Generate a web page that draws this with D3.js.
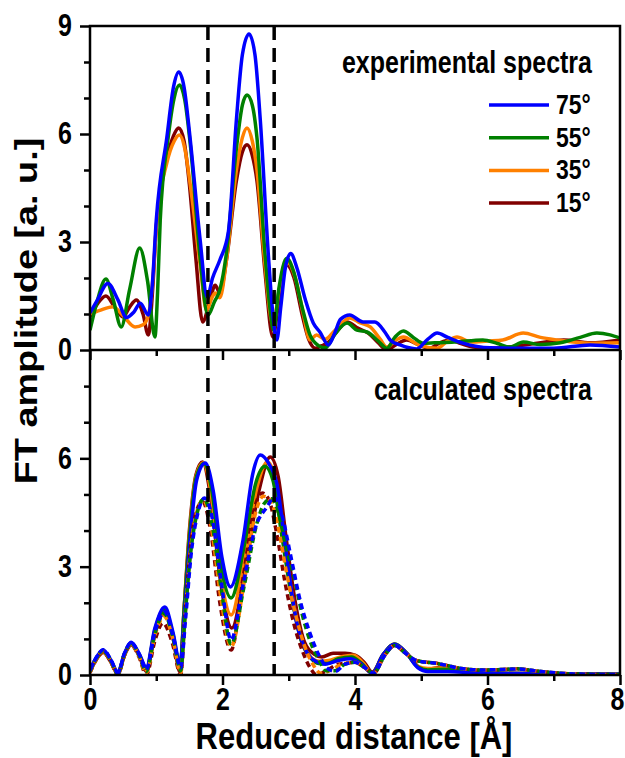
<!DOCTYPE html>
<html>
<head>
<meta charset="utf-8">
<script src="https://cdn.jsdelivr.net/npm/d3@7"></script>
<style>
  body { margin: 0; background: #fff; }
  svg { font-family: "Liberation Sans", Arial, sans-serif; font-weight: bold; }
</style>
</head>
<body>
<div id="graph"></div>
<script>
// experimental spectra, [distance, amplitude]
var exp75 = [[0,1.03],[0.1,1.35],[0.27,1.85],[0.42,1.4],[0.55,0.9],[0.66,1.05],[0.76,1.3],[0.88,0.97],[0.94,1.8],[1.0,3.6],[1.16,5.9],[1.26,7.3],[1.34,7.72],[1.42,7.3],[1.51,5.9],[1.66,3.1],[1.77,1.47],[1.85,2.0],[1.96,2.5],[2.09,3.3],[2.21,6.4],[2.3,8.2],[2.4,8.78],[2.49,8.2],[2.57,6.4],[2.69,2.7],[2.76,1.0],[2.82,0.28],[2.88,1.2],[2.95,2.3],[3.03,2.68],[3.12,2.3],[3.25,1.4],[3.37,0.75],[3.47,0.5],[3.6,0.14],[3.7,0.5],[3.78,0.85],[3.92,0.97],[4.12,0.78],[4.3,0.78],[4.45,0.5],[4.53,0.28],[4.68,0.14],[4.93,0.03],[5.1,0.3],[5.24,0.47],[5.4,0.35],[5.63,0.19],[6.04,0.06],[6.5,0.05],[7.0,0.05],[7.55,0.14],[8,0.08]];
var exp55 = [[0,0.55],[0.1,1.3],[0.24,1.97],[0.35,1.4],[0.47,0.64],[0.6,1.7],[0.75,2.83],[0.87,1.9],[0.98,0.36],[1.02,1.6],[1.06,3.6],[1.18,5.9],[1.27,7.0],[1.35,7.36],[1.43,6.95],[1.52,5.6],[1.66,2.6],[1.78,0.97],[1.88,1.35],[1.96,1.67],[2.06,2.7],[2.21,5.6],[2.3,6.8],[2.37,7.08],[2.45,6.8],[2.52,5.9],[2.64,2.7],[2.72,1.1],[2.77,0.55],[2.85,1.7],[2.97,2.55],[3.07,2.2],[3.2,1.2],[3.32,0.42],[3.45,0.12],[3.55,0.06],[3.7,0.45],[3.88,0.75],[4.03,0.55],[4.18,0.5],[4.35,0.25],[4.48,0.05],[4.6,0.35],[4.73,0.53],[4.88,0.35],[5.03,0.19],[5.2,0.2],[5.5,0.22],[5.93,0.28],[6.15,0.18],[6.34,0.08],[6.54,0.22],[6.8,0.15],[7.1,0.2],[7.4,0.35],[7.65,0.47],[7.85,0.42],[8,0.33]];
var exp35 = [[0,1.0],[0.15,1.1],[0.35,1.2],[0.5,0.95],[0.68,0.64],[0.8,0.7],[0.88,0.95],[0.95,2.0],[1.0,3.4],[1.16,5.2],[1.27,5.8],[1.35,5.97],[1.43,5.6],[1.52,4.5],[1.66,2.4],[1.76,1.1],[1.84,1.45],[1.89,1.58],[1.96,1.45],[2.06,2.5],[2.21,5.0],[2.3,5.9],[2.37,6.17],[2.45,5.8],[2.52,5.0],[2.64,2.4],[2.76,0.7],[2.86,1.7],[2.99,2.42],[3.1,2.0],[3.22,1.0],[3.32,0.28],[3.42,0.42],[3.55,0.3],[3.7,0.55],[3.92,0.89],[4.08,0.75],[4.23,0.64],[4.38,0.3],[4.48,0.08],[4.6,0.25],[4.73,0.36],[4.95,0.15],[5.24,0.05],[5.4,0.25],[5.54,0.36],[5.75,0.22],[6.0,0.25],[6.23,0.28],[6.54,0.47],[6.8,0.35],[7.05,0.28],[7.55,0.19],[8,0.2]];
var exp15 = [[0,0.92],[0.12,1.3],[0.24,1.5],[0.37,1.2],[0.5,0.92],[0.6,1.2],[0.7,1.39],[0.8,1.0],[0.88,0.42],[0.95,1.8],[1.0,3.4],[1.16,5.3],[1.26,5.95],[1.34,6.17],[1.42,5.8],[1.5,4.6],[1.6,2.5],[1.7,0.78],[1.8,1.3],[1.89,1.8],[1.96,1.58],[2.06,2.5],[2.21,4.7],[2.3,5.5],[2.37,5.7],[2.45,5.4],[2.52,4.7],[2.64,2.2],[2.76,0.36],[2.86,1.5],[2.97,2.36],[3.08,2.0],[3.2,1.0],[3.3,0.3],[3.4,0.05],[3.5,0.12],[3.6,0.22],[3.72,0.5],[3.88,0.78],[4.05,0.6],[4.2,0.47],[4.35,0.2],[4.48,0.0],[4.62,0.15],[4.78,0.28],[4.95,0.15],[5.13,0.05],[5.28,0.2],[5.43,0.28],[5.6,0.18],[5.78,0.08],[6.0,0.05],[6.3,0.08],[6.75,0.19],[7.15,0.28],[7.55,0.2],[8,0.28]];

// calculated spectra, solid lines
var calc75 = [[0,0.14],[0.1,0.5],[0.2,0.69],[0.32,0.4],[0.42,0.08],[0.52,0.6],[0.62,0.91],[0.74,0.6],[0.85,0.22],[0.98,1.3],[1.13,1.88],[1.25,1.2],[1.36,0.33],[1.43,1.8],[1.51,3.74],[1.61,5.4],[1.74,5.87],[1.86,5.1],[1.99,3.27],[2.12,2.44],[2.31,3.74],[2.46,5.6],[2.57,6.09],[2.7,5.85],[2.82,5.3],[2.97,3.27],[3.12,1.44],[3.28,0.6],[3.43,0.36],[3.55,0.3],[3.75,0.4],[3.92,0.45],[4.1,0.3],[4.26,0.05],[4.42,0.55],[4.6,0.85],[4.78,0.6],[4.95,0.2],[5.1,0.1],[5.4,0.1],[5.8,0.06],[6.5,0.04],[8,0.02]];
var calc55 = [[0,0.12],[0.1,0.48],[0.2,0.66],[0.32,0.38],[0.42,0.06],[0.52,0.58],[0.62,0.88],[0.74,0.58],[0.85,0.18],[0.98,1.25],[1.12,1.82],[1.25,1.15],[1.36,0.25],[1.42,1.8],[1.5,3.8],[1.6,5.45],[1.72,5.86],[1.84,5.1],[1.98,3.0],[2.13,2.13],[2.33,3.6],[2.5,5.3],[2.64,5.78],[2.76,5.4],[2.9,3.8],[3.03,2.3],[3.18,1.0],[3.32,0.5],[3.45,0.32],[3.58,0.32],[3.75,0.45],[3.95,0.5],[4.1,0.32],[4.26,0.05],[4.42,0.55],[4.6,0.86],[4.78,0.6],[4.95,0.22],[5.1,0.14],[5.35,0.16],[5.8,0.07],[6.5,0.04],[8,0.02]];
var calc35 = [[0,0.1],[0.1,0.46],[0.2,0.64],[0.32,0.36],[0.42,0.04],[0.52,0.56],[0.62,0.86],[0.74,0.56],[0.85,0.14],[0.98,1.2],[1.12,1.78],[1.25,1.1],[1.36,0.15],[1.42,1.8],[1.5,3.9],[1.6,5.5],[1.71,5.88],[1.83,5.0],[1.97,2.8],[2.13,1.66],[2.34,3.4],[2.52,5.2],[2.68,5.9],[2.8,5.4],[2.93,3.7],[3.06,2.1],[3.2,0.9],[3.33,0.5],[3.47,0.38],[3.6,0.4],[3.78,0.5],[3.98,0.55],[4.12,0.34],[4.26,0.05],[4.42,0.55],[4.6,0.86],[4.78,0.6],[4.95,0.24],[5.1,0.18],[5.35,0.2],[5.8,0.07],[6.5,0.04],[8,0.02]];
var calc15 = [[0,0.08],[0.1,0.44],[0.2,0.62],[0.32,0.34],[0.42,0.02],[0.52,0.54],[0.62,0.84],[0.74,0.54],[0.85,0.1],[0.98,1.15],[1.12,1.74],[1.25,1.05],[1.36,0.08],[1.42,1.8],[1.5,4.0],[1.6,5.55],[1.7,5.9],[1.82,4.95],[1.97,2.6],[2.14,1.3],[2.36,3.2],[2.55,5.1],[2.72,6.04],[2.84,5.5],[2.96,3.8],[3.1,2.0],[3.24,0.9],[3.38,0.58],[3.5,0.5],[3.67,0.6],[3.85,0.6],[4.0,0.55],[4.14,0.35],[4.26,0.08],[4.42,0.55],[4.6,0.83],[4.78,0.6],[5.03,0.14],[5.18,0.18],[5.33,0.22],[5.5,0.15],[5.74,0.08],[6.5,0.04],[8,0.02]];

// calculated spectra, dashed lines
var dash75 = [[0,0.12],[0.1,0.5],[0.2,0.7],[0.32,0.4],[0.42,0.05],[0.52,0.6],[0.62,0.9],[0.74,0.58],[0.85,0.15],[0.98,1.2],[1.13,1.75],[1.25,1.1],[1.37,0.2],[1.44,1.5],[1.53,3.4],[1.63,4.5],[1.73,4.9],[1.85,4.3],[1.98,2.6],[2.13,0.97],[2.3,2.4],[2.5,4.1],[2.67,4.65],[2.78,4.92],[2.9,4.4],[3.03,3.3],[3.17,2.08],[3.32,1.16],[3.47,0.5],[3.58,0.19],[3.7,0.1],[3.85,0.3],[4.0,0.35],[4.15,0.2],[4.28,0.05],[4.45,0.55],[4.6,0.82],[4.75,0.62],[4.9,0.42],[5.05,0.36],[5.2,0.33],[5.35,0.28],[5.6,0.18],[5.9,0.14],[6.2,0.15],[6.45,0.17],[6.7,0.12],[6.9,0.08],[7.3,0.03],[8,0.01]];
var dash55 = [[0,0.1],[0.1,0.48],[0.2,0.68],[0.32,0.38],[0.42,0.03],[0.52,0.58],[0.62,0.88],[0.74,0.55],[0.85,0.1],[0.98,1.15],[1.12,1.7],[1.25,1.05],[1.37,0.12],[1.43,1.5],[1.52,3.4],[1.62,4.5],[1.72,4.88],[1.84,4.2],[1.98,2.4],[2.13,0.85],[2.32,2.4],[2.52,4.2],[2.63,4.75],[2.74,4.88],[2.86,4.4],[2.98,3.4],[3.07,2.8],[3.2,1.7],[3.33,0.9],[3.46,0.4],[3.56,0.12],[3.7,0.12],[3.85,0.3],[4.0,0.35],[4.15,0.2],[4.28,0.05],[4.45,0.55],[4.6,0.82],[4.75,0.62],[4.9,0.42],[5.05,0.36],[5.2,0.33],[5.35,0.28],[5.6,0.18],[5.9,0.14],[6.2,0.15],[6.45,0.17],[6.7,0.12],[6.9,0.08],[7.3,0.03],[8,0.01]];
var dash35 = [[0,0.08],[0.1,0.46],[0.2,0.66],[0.32,0.36],[0.42,0.02],[0.52,0.56],[0.62,0.86],[0.74,0.52],[0.85,0.05],[0.98,1.1],[1.12,1.62],[1.25,1.0],[1.37,0.05],[1.43,1.5],[1.52,3.5],[1.61,4.5],[1.71,4.85],[1.83,4.1],[1.97,2.2],[2.13,0.78],[2.33,2.6],[2.5,4.5],[2.62,4.95],[2.72,4.85],[2.84,4.1],[2.96,2.9],[3.1,1.7],[3.24,0.8],[3.38,0.25],[3.48,0.05],[3.62,0.12],[3.8,0.3],[4.0,0.35],[4.15,0.2],[4.28,0.05],[4.45,0.55],[4.6,0.82],[4.75,0.62],[4.9,0.42],[5.05,0.36],[5.2,0.33],[5.35,0.28],[5.6,0.18],[5.9,0.14],[6.2,0.15],[6.45,0.17],[6.7,0.12],[6.9,0.08],[7.3,0.03],[8,0.01]];
var dash15 = [[0,0.06],[0.1,0.44],[0.2,0.64],[0.32,0.34],[0.42,0.0],[0.52,0.54],[0.62,0.84],[0.74,0.5],[0.85,0.0],[0.98,0.95],[1.1,1.44],[1.24,0.9],[1.37,0.0],[1.43,1.5],[1.52,3.6],[1.6,4.5],[1.7,4.8],[1.82,4.0],[1.96,2.0],[2.13,0.69],[2.32,2.8],[2.48,4.6],[2.6,5.04],[2.7,4.85],[2.82,3.9],[2.94,2.6],[3.08,1.4],[3.22,0.6],[3.34,0.15],[3.42,0.0],[3.55,0.1],[3.75,0.3],[4.0,0.35],[4.15,0.2],[4.28,0.05],[4.45,0.55],[4.6,0.82],[4.75,0.62],[4.9,0.42],[5.05,0.36],[5.2,0.33],[5.35,0.28],[5.6,0.18],[5.9,0.14],[6.2,0.15],[6.45,0.17],[6.7,0.12],[6.9,0.08],[7.3,0.03],[8,0.01]];

var legendLabels = ["75°", "55°", "35°", "15°"];
var seriesColors = ["#0000ff", "#008000", "#ff8000", "#800000"];
var xMajorTicks = [0, 2, 4, 6, 8];
var xMinorTicks = [1, 3, 5, 7];
var yTopTicks = [0, 3, 6, 9];
var yBotTicks = [0, 3, 6];
var yMinorTicks = [1, 2, 4, 5, 7, 8];
var markerLines = [1.78, 2.78];

var W = 625, H = 758;
var padLeft = 90, padRight = 620, padTop = 26, padMid = 350, padBottom = 675;
// the source picture is a bit taller than wide, text is stretched the same way
var stretch = 1.22;

var svg = d3.select("#graph").append("svg").attr("width", W).attr("height", H);

var xScale = d3.scaleLinear().domain([0, 8]).range([padLeft, padRight]);
var yTop = d3.scaleLinear().domain([0, 9]).range([padMid, padTop]);
var yBot = d3.scaleLinear().domain([0, 9]).range([padBottom, padMid]);

// clip regions for both panels
var defs = svg.append("defs");
defs.append("clipPath").attr("id", "clipTop").append("rect")
    .attr("x", padLeft).attr("y", padTop).attr("width", padRight - padLeft).attr("height", padMid - padTop);
defs.append("clipPath").attr("id", "clipBot").append("rect")
    .attr("x", padLeft).attr("y", padMid).attr("width", padRight - padLeft).attr("height", padBottom - padMid);

function drawCurve(g, data, yScale, color, dashed) {
    var line = d3.line()
        .curve(d3.curveMonotoneX)
        .x(function (d) { return xScale(d[0]); })
        .y(function (d) { return yScale(d[1]); });
    g.append("path")
        .datum(data)
        .attr("fill", "none")
        .attr("stroke", color)
        .attr("stroke-width", 3.5)
        .attr("stroke-linejoin", "round")
        .attr("stroke-dasharray", dashed ? "6,4" : null)
        .attr("d", line);
}

// top panel curves
var gTop = svg.append("g").attr("clip-path", "url(#clipTop)");
var expList = [exp75, exp55, exp35, exp15];
for (var i = 3; i >= 0; i--) {
    drawCurve(gTop, expList[i], yTop, seriesColors[i], false);
}

// bottom panel curves
var gBot = svg.append("g").attr("clip-path", "url(#clipBot)");
var calcList = [calc75, calc55, calc35, calc15];
var dashList = [dash75, dash55, dash35, dash15];
for (var i = 3; i >= 0; i--) {
    drawCurve(gBot, calcList[i], yBot, seriesColors[i], false);
}
for (var i = 3; i >= 0; i--) {
    drawCurve(gBot, dashList[i], yBot, seriesColors[i], true);
}

// vertical dashed markers
svg.selectAll(".marker")
    .data(markerLines)
    .enter()
    .append("line")
    .attr("x1", function (d) { return xScale(d); })
    .attr("x2", function (d) { return xScale(d); })
    .attr("y1", padTop)
    .attr("y2", padBottom)
    .attr("stroke", "#000")
    .attr("stroke-width", 3.5)
    .attr("stroke-dasharray", "14,8");

// axes
function styleAxis(g) {
    g.select(".domain").remove();
    g.selectAll(".tick line").attr("stroke", "#000").attr("stroke-width", 2.5);
    g.selectAll(".tick text").attr("fill", "#000").style("font-size", "25px").style("font-weight", "bold");
}

// bottom x axis
var gx = svg.append("g").attr("transform", "translate(0," + padBottom + ")")
    .call(d3.axisBottom(xScale).tickValues(xMajorTicks).tickSize(10).tickFormat(d3.format("d")));
styleAxis(gx);
gx.selectAll(".tick text")
    .attr("y", 13 / stretch)
    .attr("transform", "scale(1," + stretch + ")");
gx.selectAll(".tick text").filter(function (d) { return d == 8; }).attr("x", -3);
var gx2 = svg.append("g").attr("transform", "translate(0," + padBottom + ")")
    .call(d3.axisBottom(xScale).tickValues(xMinorTicks).tickSize(6).tickFormat(""));
styleAxis(gx2);

// ticks under the top panel
var gxm = svg.append("g").attr("transform", "translate(0," + padMid + ")")
    .call(d3.axisBottom(xScale).tickValues(xMajorTicks).tickSize(10).tickFormat(""));
styleAxis(gxm);
var gxm2 = svg.append("g").attr("transform", "translate(0," + padMid + ")")
    .call(d3.axisBottom(xScale).tickValues(xMinorTicks).tickSize(6).tickFormat(""));
styleAxis(gxm2);

// y axes
function leftAxis(yScale, values, size, withLabels) {
    var g = svg.append("g").attr("transform", "translate(" + padLeft + ",0)")
        .call(d3.axisLeft(yScale).tickValues(values).tickSize(size).tickPadding(8)
            .tickFormat(withLabels ? d3.format("d") : ""));
    styleAxis(g);
    g.selectAll(".tick text").attr("transform", "scale(1," + stretch + ")");
}
leftAxis(yTop, yTopTicks, 10, true);
leftAxis(yTop, yMinorTicks, 6, false);
leftAxis(yBot, yBotTicks, 10, true);
leftAxis(yBot, yMinorTicks, 6, false);

// frames
svg.append("rect").attr("x", padLeft).attr("y", padTop)
    .attr("width", padRight - padLeft).attr("height", padBottom - padTop)
    .attr("fill", "none").attr("stroke", "#000").attr("stroke-width", 2.5);
svg.append("line").attr("x1", padLeft).attr("x2", padRight).attr("y1", padMid).attr("y2", padMid)
    .attr("stroke", "#000").attr("stroke-width", 2.5);

// text with the same vertical stretch as the source
function addText(x, y, str, size, anchor) {
    return svg.append("text")
        .attr("transform", "translate(" + x + "," + y + ") scale(1," + stretch + ")")
        .attr("text-anchor", anchor)
        .style("font-size", size + "px")
        .text(str);
}

// panel titles
addText(592, 73, "experimental spectra", 25, "end");
addText(592, 400, "calculated spectra", 25, "end");

// legend
legendLabels.forEach(function (label, i) {
    var ly = 105 + i * 32.7;
    svg.append("line")
        .attr("x1", 489).attr("x2", 549).attr("y1", ly).attr("y2", ly)
        .attr("stroke", seriesColors[i])
        .attr("stroke-width", 3.5);
    addText(556, ly + 9, label, 23, "start");
});

// axis titles
svg.append("text")
    .attr("transform", "translate(37,311) rotate(-90) scale(" + stretch + ",1)")
    .attr("text-anchor", "middle")
    .style("font-size", "31px")
    .text("FT amplitude [a. u.]");
addText(354, 749, "Reduced distance [Å]", 31, "middle");
</script>
</body>
</html>
